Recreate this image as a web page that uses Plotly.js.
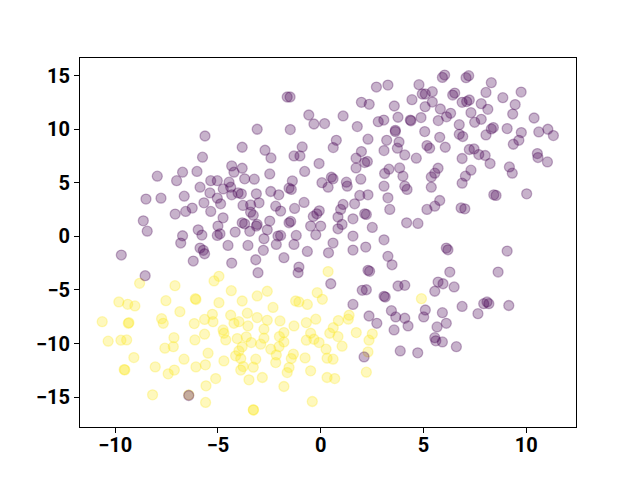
<!DOCTYPE html>
<html>
<head>
<meta charset="utf-8">
<script src="https://cdn.plot.ly/plotly-3.0.1.min.js"></script>
<style>html,body{margin:0;padding:0;background:#fff;}#chart{width:640px;height:480px;}</style>
</head>
<body>
<div id="chart"></div>
<script>
// Class 0 (dark purple)
const purpleX = [-5.63,-5.75,-7.95,-7.01,-6.72,-6.02,-1.63,-1.49,-0.58,-0.33,0.19,-3.09,-1.48,-3.82,-2.71,-2.42,-0.90,-1.30,-1.01,-0.08,-4.33,-4.22,-3.82,-2.48,-0.78,-5.35,-5.03,-4.46,-3.70,-3.23,-1.38,0.06,
6.03,5.92,2.71,3.27,4.78,4.94,5.09,5.43,4.44,5.43,5.08,1.98,2.36,3.58,5.82,6.12,6.32,1.09,2.80,3.07,3.76,4.36,4.39,4.88,5.72,1.78,3.63,3.63,5.06,0.76,0.61,2.30,3.21,3.81,3.73,3.08,4.09,5.17,5.30,5.79,6.06,4.65,1.98,1.72,2.14,2.27,1.72,3.32,3.11,3.84,4.00,5.71,5.55,5.38,0.52,0.60,1.95,1.25,
7.20,7.07,8.30,8.04,8.86,9.75,6.52,6.42,6.88,7.10,7.23,7.81,8.13,9.46,9.34,7.31,6.74,7.49,7.81,6.74,6.91,8.04,8.30,8.40,9.07,9.76,9.64,9.37,10.38,10.61,11.05,11.32,10.54,10.57,11.03,7.23,7.46,7.69,8.00,8.24,6.88,9.18,9.32,7.31,7.04,6.88,
-5.87,-8.50,-7.77,-6.64,-7.08,-6.57,-6.25,-8.63,-8.44,-6.72,-6.81,-5.96,-5.78,-5.87,-5.71,-5.65,-6.20,-9.70,-8.54,-5.68,
-4.38,-4.74,-5.39,-5.03,-4.87,-4.33,-4.02,-3.86,-3.13,-2.43,-2.04,-1.54,-1.43,-3.78,-3.41,-3.00,-2.19,-1.95,-1.27,-0.81,-5.35,-3.41,-3.28,-4.75,-2.48,-1.54,-1.46,-3.82,-3.70,-3.09,-3.13,-5.00,-0.49,0.00,-0.36,-0.19,-0.07,-4.16,-3.45,-2.60,-2.08,-1.95,-1.19,-0.24,-5.03,-4.90,-2.76,-2.16,-1.30,-4.51,-3.54,-2.79,-0.65,0.38,-1.79,-3.16,-4.33,-1.06,-1.10,-3.05,
1.29,3.08,4.09,4.20,5.38,0.36,1.09,0.97,1.65,1.90,2.30,3.27,3.36,2.14,2.22,1.57,0.84,5.17,5.55,5.79,1.04,0.84,2.51,4.18,4.73,1.57,0.60,1.57,2.19,3.08,6.11,6.19,3.27,3.47,2.30,2.38,6.28,5.71,5.95,5.55,3.76,4.09,0.49,2.02,2.22,3.08,3.14,1.57,6.49,
8.42,8.53,10.02,6.83,7.01,9.07,8.63,6.88,7.93,8.09,8.18,9.15,7.65,6.60,
2.35,2.73,3.44,3.65,4.09,4.25,3.57,5.09,5.01,5.92,6.11,5.66,5.55,5.60,5.92,3.87,4.72,2.11,-6.42];
const purpleY = [9.37,7.39,5.62,5.20,5.99,6.06,13.01,13.01,11.33,10.49,10.53,10.00,9.97,8.32,8.04,7.32,8.35,7.51,7.51,6.80,6.58,5.99,6.36,5.83,6.06,5.20,5.20,5.06,5.37,5.34,5.18,5.01,
15.06,14.84,13.94,14.12,14.16,13.29,13.29,13.51,12.76,12.54,12.11,12.51,12.33,12.17,11.89,11.16,11.49,11.24,10.71,10.86,11.12,10.86,10.79,11.09,10.81,10.25,9.90,9.78,9.78,8.97,8.29,9.07,8.97,8.81,8.23,8.01,7.60,8.48,8.23,9.25,8.32,7.30,7.92,7.30,6.89,6.99,6.39,6.27,5.87,6.39,5.62,6.36,5.90,5.55,5.52,5.37,5.34,5.06,
15.00,14.81,14.35,13.44,12.95,13.47,13.38,13.19,12.51,12.58,12.73,12.39,11.86,12.30,11.42,11.55,10.43,10.65,10.93,9.53,9.32,9.47,10.03,10.16,10.06,9.69,8.97,8.60,11.05,9.75,10.00,9.41,7.73,7.36,6.95,8.11,8.16,7.64,7.55,6.80,7.27,6.48,5.90,6.18,5.62,4.97,
4.59,3.48,3.57,3.75,2.08,2.33,2.64,1.45,0.49,0.06,-0.62,0.61,0.12,-1.09,-1.30,-1.62,-2.30,-1.74,-3.67,3.13,
4.59,4.43,4.06,3.57,3.04,3.88,4.06,3.97,3.97,4.19,3.88,4.50,4.38,2.89,2.94,3.13,2.82,2.36,2.61,3.17,2.33,2.26,1.98,1.73,1.43,1.27,1.40,1.27,1.17,1.12,0.96,0.96,0.96,0.96,1.86,2.11,2.39,0.40,0.47,0.61,0.03,0.09,0.09,0.15,0.09,0.24,-0.22,-0.75,-0.75,-0.84,-0.84,-1.30,-1.40,-1.53,-1.99,-2.18,-2.49,-2.86,-3.39,-3.39,
4.69,4.69,4.69,4.38,4.59,4.59,2.98,2.52,3.04,3.82,3.88,3.60,2.52,2.11,2.05,1.64,1.80,2.52,2.82,3.35,1.12,0.71,0.84,1.27,1.21,0.03,-0.62,-1.28,-1.00,-0.32,-1.09,-1.25,-1.86,-2.65,-3.17,-3.26,-3.33,-4.26,-4.42,-5.12,-4.63,-4.57,-4.42,-5.03,-4.98,-5.59,-5.66,-6.35,-4.72,
3.88,3.82,3.97,2.66,2.57,-1.37,-3.33,-6.54,-6.28,-6.12,-6.28,-6.45,-7.21,-10.29,
-7.43,-8.11,-6.93,-7.52,-7.64,-8.36,-8.73,-6.87,-7.52,-7.12,-8.11,-8.45,-9.45,-9.75,-9.85,-10.69,-10.87,-11.25,-14.85];

// Class 1 (yellow)
const yellowX = [-8.81,-7.09,-7.53,-6.10,-6.07,-9.82,-9.39,-9.04,-4.95,-5.19,-4.35,-2.60,-3.09,-3.82,-4.95,-1.22,-1.06,-0.65,-0.17,0.08,-2.32,0.36,4.90,
-6.85,-10.63,-9.36,-9.33,-7.74,-7.66,-6.15,-5.65,-10.34,-9.72,-9.44,-7.14,-7.58,-7.17,-6.12,-5.65,-9.09,-6.65,-5.61,-9.56,-9.53,-8.05,-7.12,-7.42,-6.07,-5.58,-8.18,-6.42,-5.60,
-5.27,-5.24,-4.38,-3.98,-4.22,-3.57,-3.09,-2.60,-1.98,-1.30,-0.70,-0.24,-4.75,-4.71,-3.54,-2.76,-1.79,-2.01,-0.49,-4.62,-4.06,-3.62,-3.38,-2.92,-2.76,-0.70,-0.33,-0.08,-1.79,-2.03,-2.43,-3.82,-3.98,-5.48,-4.14,-3.89,-3.16,-2.16,-1.33,-1.43,-0.76,0.26,0.31,-4.71,-2.19,-3.77,-3.89,-3.28,-1.54,-1.63,-0.49,-5.11,-3.49,-2.84,0.31,-1.79,-0.41,-3.28,-3.27,
1.38,1.34,0.86,0.61,0.44,0.84,1.73,2.51,2.35,1.04,2.30,0.60,2.22,0.68];
const yellowY = [-4.38,-4.60,-6.00,-5.81,-5.89,-6.12,-6.34,-6.49,-3.73,-4.16,-5.07,-5.12,-5.56,-6.03,-6.19,-6.03,-6.12,-6.35,-5.25,-5.87,-6.63,-3.28,-5.81,
-7.03,-7.96,-8.11,-8.05,-7.68,-8.11,-8.14,-7.75,-9.78,-9.69,-9.66,-9.45,-10.43,-10.29,-9.66,-9.13,-11.31,-11.46,-11.99,-12.43,-12.46,-12.18,-12.48,-12.83,-12.18,-13.95,-14.79,-14.79,-15.50,
-7.27,-7.96,-7.36,-7.96,-8.11,-7.17,-7.58,-7.83,-7.89,-8.36,-8.05,-7.73,-8.73,-9.04,-8.36,-8.66,-8.98,-9.35,-9.04,-9.66,-9.54,-9.38,-9.91,-10.06,-9.50,-9.69,-9.60,-9.91,-9.85,-10.29,-10.53,-10.31,-10.69,-10.90,-11.15,-11.40,-11.46,-11.06,-10.99,-11.40,-11.34,-10.53,-11.37,-11.62,-11.78,-12.15,-12.48,-12.21,-12.24,-12.71,-12.55,-13.27,-13.39,-13.17,-13.17,-14.01,-15.41,-16.18,-16.21,
-7.36,-7.73,-7.86,-8.52,-9.04,-9.35,-8.98,-9.10,-9.69,-10.25,-10.78,-11.46,-12.67,-13.27];

const xTicks = [-10, -5, 0, 5, 10];
const yTicks = [-15, -10, -5, 0, 5, 10, 15];

const purple = 'rgba(68,1,84,0.3)';
const yellow = 'rgba(253,231,37,0.3)';

const traces = [
  {x: yellowX, y: yellowY, type: 'scatter', mode: 'markers', hoverinfo: 'skip',
   marker: {size: 10, color: yellow, line: {color: yellow, width: 1.3}}},
  {x: purpleX, y: purpleY, type: 'scatter', mode: 'markers', hoverinfo: 'skip',
   marker: {size: 10, color: purple, line: {color: purple, width: 1.3}}}
];

const tickFont = {family: 'Roboto, "DejaVu Sans", sans-serif', size: 20, color: '#000', weight: 700};
const axisCommon = {showgrid: false, zeroline: false, showline: true, mirror: true,
  linecolor: '#000', linewidth: 1, ticks: 'outside', ticklen: 5, tickwidth: 1, tickcolor: '#000',
  tickfont: tickFont};

const layout = {
  width: 640, height: 480,
  margin: {l: 80, r: 64, t: 58, b: 53, pad: 0},
  paper_bgcolor: '#fff', plot_bgcolor: '#fff',
  showlegend: false,
  xaxis: Object.assign({}, axisCommon, {range: [-11.71, 12.42], tickvals: xTicks, ticklabelstandoff: -5}),
  yaxis: Object.assign({}, axisCommon, {range: [-17.79, 16.65], tickvals: yTicks})
};

Plotly.newPlot('chart', traces, layout, {staticPlot: true, displayModeBar: false});
</script>
</body>
</html>
